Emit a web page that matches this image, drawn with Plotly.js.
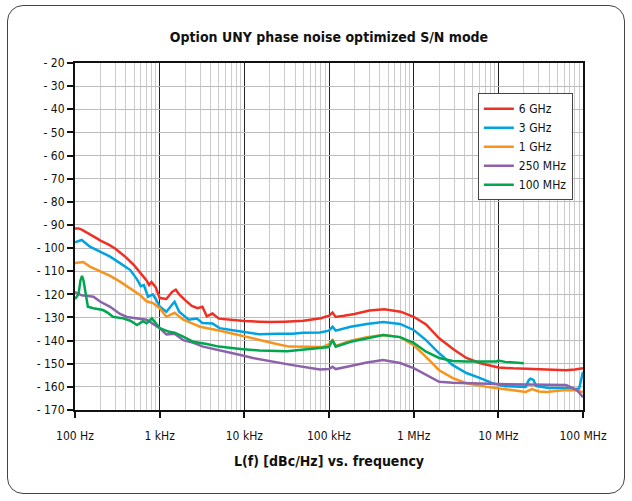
<!DOCTYPE html>
<html>
<head>
<meta charset="utf-8">
<script src="https://cdn.plot.ly/plotly-3.0.1.min.js"></script>
<style>
  html, body { margin:0; padding:0; background:#fff; }
  #wrap { position:relative; width:632px; height:501px; }
  #chart { width:632px; height:501px; }
  #frame { position:absolute; left:7px; top:5px; width:616px; height:487px;
           border:1.5px solid #444; border-radius:16px; pointer-events:none; }
</style>
</head>
<body>
<div id="wrap"><div id="chart"></div><div id="frame"></div></div>
<script>
// ---- Data ----
const seriesNames = ["6 GHz", "3 GHz", "1 GHz", "250 MHz", "100 MHz"];

const f6GHz = [100,110,120,135,150,175,200,250,300,400,500,600,650,700,750,800,900,1000,1200,1400,1550,1700,2000,2400,2800,3200,3600,4200,5000,7000,10000,15000,20000,30000,50000,80000,100000,110000,120000,150000,200000,300000,450000,700000,1000000,1400000,2000000,3000000,4200000,6000000,8500000,10000000,15000000,25000000,40000000,63000000,80000000,100000000];
const v6GHz = [-91.5,-91.5,-92,-93,-94,-95.5,-96.8,-98.5,-100.3,-104,-107.5,-110.8,-112.4,-114,-116,-114.7,-117,-121.6,-122,-119,-118,-120,-122.5,-125,-126,-125.4,-129.5,-128.3,-130.5,-131,-131.5,-131.8,-132,-131.8,-131.4,-130.3,-129.2,-127.9,-129.8,-129.3,-128.5,-127,-126.5,-127.5,-129.7,-133,-139,-144,-147.5,-149.7,-151.2,-151.6,-152,-152.3,-152.5,-152.8,-152.5,-152];

const f3GHz = [100,110,120,135,150,200,260,340,450,540,600,650,730,830,900,1000,1200,1400,1500,1700,2200,2750,3200,4200,5100,7300,10700,15000,25000,37000,50000,78000,100000,110000,120000,180000,280000,436000,690000,1000000,1400000,2000000,2900000,4200000,6100000,8500000,12000000,21000000,23000000,24000000,26000000,28000000,40000000,63000000,80000000,90000000,95000000,100000000];
const v3GHz = [-97.5,-97,-96.5,-98,-99.4,-101.6,-103.7,-106.5,-109.5,-113.5,-116.5,-116,-121,-120,-122,-125.3,-127.5,-124.5,-123.2,-127.5,-131,-130.5,-132.4,-132.6,-134.6,-135.5,-136.6,-137.3,-137,-137,-136.6,-136.5,-135.7,-134,-135.7,-134,-132.8,-132,-132.8,-135.4,-139.8,-145.5,-150.6,-154,-156.2,-158.4,-159.7,-160,-157,-156.5,-157,-159.7,-160.5,-160.5,-161,-160.7,-157,-153.5];

const f1GHz = [100,125,150,200,260,340,450,585,700,830,1000,1200,1500,1900,2500,3000,5000,9000,14000,24000,34000,84000,100000,110000,120000,180000,280000,436000,690000,1000000,1400000,2000000,2900000,4200000,7300000,12000000,21000000,25000000,30000000,37000000,50000000,63000000,80000000,100000000];
const v1GHz = [-106.5,-106,-108,-110.2,-112,-114.5,-117.3,-120.3,-123,-123.8,-126,-129.7,-128,-131,-132.8,-134,-135.6,-137.6,-139.4,-141.5,-142.6,-142.8,-141.5,-139.8,-142.3,-140,-138.5,-137.6,-138.5,-142,-147,-152.8,-156.2,-158.4,-160,-161,-162.2,-161,-162,-162.2,-161.6,-161.4,-161.5,-162.2];

const f250MHz = [100,120,150,165,200,260,340,410,700,1000,1200,1500,1900,2500,3250,5000,9000,12600,21000,37000,78000,100000,110000,120000,180000,280000,436000,690000,1000000,1400000,2000000,2900000,10000000,63000000,85000000,100000000];
const v250MHz = [-119,-120.4,-120.8,-121,-123.2,-125.4,-128.5,-129.8,-131,-134.6,-137.3,-137,-139.8,-141,-142.6,-144,-146.2,-147.5,-149.1,-150.6,-152.5,-152.3,-151.3,-152.3,-151,-149.5,-148.4,-149.7,-151.9,-154.9,-157.8,-158.2,-158.8,-159.2,-161.4,-164.5];

const f100MHz = [100,110,116,121,126,131,142,165,214,245,280,370,450,540,635,700,810,900,1000,1300,1500,1900,2500,3600,5000,9000,15000,32000,50000,78000,100000,110000,120000,180000,280000,436000,690000,1000000,1400000,2000000,2900000,4200000,9500000,10000000,12000000,19000000,20000000];
const v100MHz = [-122,-120,-114,-112,-114,-118,-125.4,-126,-126.8,-128,-129.7,-130.4,-131.4,-133.3,-131.6,-132.5,-130.4,-132.5,-134.6,-136.2,-136.6,-138.3,-140.5,-141.5,-142.6,-143.6,-144.3,-144.6,-144,-143.2,-142.8,-139.8,-142.6,-140.5,-138.9,-137.6,-138.5,-141,-144.8,-147.5,-148.8,-149,-149,-148.6,-149.2,-149.7,-149.8];

const xTickVals = [100, 1e3, 1e4, 1e5, 1e6, 1e7, 1e8];
const xTickText = ["100 Hz", "1 kHz", "10 kHz", "100 kHz", "1 MHz", "10 MHz", "100 MHz"];
const yTickVals = [-170,-160,-150,-140,-130,-120,-110,-100,-90,-80,-70,-60,-50,-40,-30,-20];
const yTickText = yTickVals.map(v => "- " + Math.abs(v));

const colors = ["#ee3124", "#00a3e0", "#f7941d", "#8c62aa", "#00a650"];
const xs = [f6GHz, f3GHz, f1GHz, f250MHz, f100MHz];
const ys = [v6GHz, v3GHz, v1GHz, v250MHz, v100MHz];

const FONT = "'Liberation Sans Narrow', 'DejaVu Sans Condensed', 'Arial Narrow', sans-serif";

const traces = seriesNames.map((n, i) => ({
  type: "scatter", mode: "lines", name: n,
  x: xs[i], y: ys[i],
  line: { color: colors[i], width: 2.5 }
}));

const layout = {
  width: 632, height: 501,
  margin: { l: 75, r: 49, t: 63, b: 91 },
  paper_bgcolor: "#fff", plot_bgcolor: "#fff",
  font: { family: FONT, size: 12, color: "#111" },
  title: { text: "<b>Option UNY phase noise optimized S/N mode</b>",
           font: { family: FONT, size: 14, color: "#111" },
           x: 0.5, xref: "paper", y: 1 - 37/501, yanchor: "middle" },
  showlegend: true,
  legend: { x: 0.793, y: 0.913, xanchor: "left", yanchor: "top",
            bgcolor: "#fff", bordercolor: "#444", borderwidth: 1,
            font: { family: FONT, size: 12, color: "#111" },
            itemwidth: 30, tracegroupgap: 0 },
  xaxis: {
    type: "log", range: [2, 8],
    tickvals: xTickVals, ticktext: xTickText,
    tickfont: { family: FONT, size: 12, color: "#111" },
    ticklabelstandoff: 8,
    showgrid: true, gridcolor: "#222", gridwidth: 1,
    minor: { showgrid: true, gridcolor: "#cccccc", gridwidth: 1, dtick: "D1", ticks: "" },
    showline: true, linecolor: "#111", linewidth: 2, mirror: true,
    ticks: "outside", ticklen: 6, tickwidth: 2, tickcolor: "#111",
    zeroline: false,
    title: { text: "<b>L(f) [dBc/Hz] vs. frequency</b>",
             font: { family: FONT, size: 14, color: "#111" }, standoff: 14 }
  },
  yaxis: {
    range: [-170, -20],
    tickvals: yTickVals, ticktext: yTickText,
    tickfont: { family: FONT, size: 12, color: "#111" },
    showgrid: true, gridcolor: "#bdbdbd", gridwidth: 1,
    showline: true, linecolor: "#111", linewidth: 2, mirror: true,
    ticks: "outside", ticklen: 6, tickwidth: 2, tickcolor: "#111",
    zeroline: false
  }
};

Plotly.newPlot("chart", traces, layout, { displayModeBar: false, staticPlot: true });
</script>
</body>
</html>
